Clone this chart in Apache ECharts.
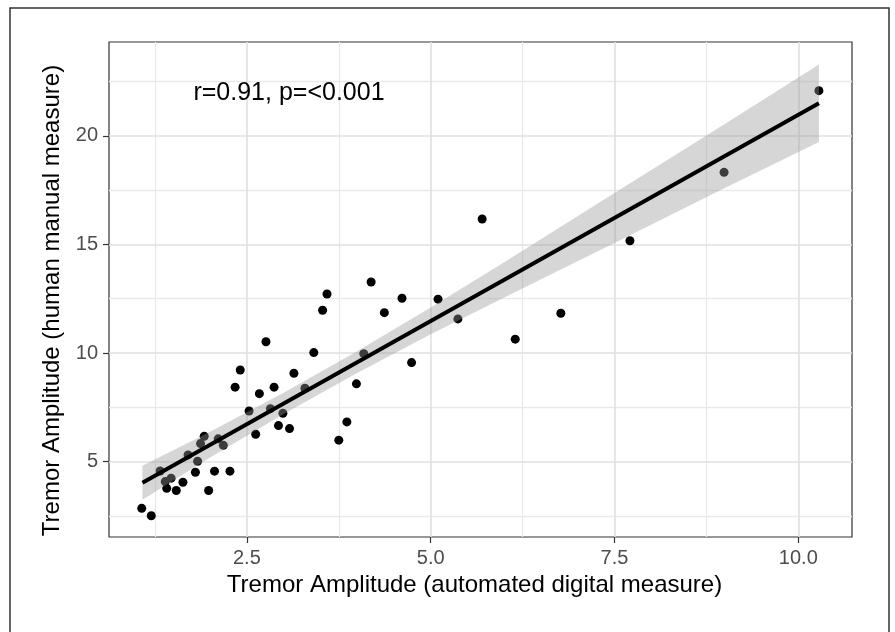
<!DOCTYPE html>
<html>
<head>
<meta charset="utf-8">
<script src="https://cdn.jsdelivr.net/npm/echarts@6/dist/echarts.min.js"></script>
<style>
  html, body { margin: 0; padding: 0; background: #fff; }
  #container { width: 895px; height: 632px; }
</style>
</head>
<body>
<div id="container"></div>
<script>
// scatter points: automated (x) vs manual (y)
const pointX = [1.07, 1.20, 1.32, 1.39, 1.41, 1.47, 1.54, 1.63, 1.70, 1.80,
  1.83, 1.87, 1.92, 1.98, 2.06, 2.11, 2.18, 2.27, 2.34, 2.41,
  2.53, 2.62, 2.67, 2.76, 2.82, 2.87, 2.93, 2.99, 3.08, 3.14,
  3.29, 3.41, 3.53, 3.59, 3.75, 3.86, 3.99, 4.09, 4.19, 4.37,
  4.61, 4.74, 5.10, 5.37, 5.70, 6.15, 6.77, 7.71, 8.99, 10.28];
const pointY = [2.85, 2.51, 4.57, 4.08, 3.77, 4.24, 3.67, 4.05, 5.31, 4.51,
  5.02, 5.83, 6.17, 3.67, 4.56, 6.05, 5.75, 4.56, 8.43, 9.22,
  7.33, 6.26, 8.13, 10.52, 7.44, 8.43, 6.66, 7.23, 6.52, 9.07,
  8.38, 10.02, 11.97, 12.72, 5.99, 6.83, 8.58, 9.97, 13.27, 11.86,
  12.52, 9.56, 12.48, 11.57, 16.17, 10.64, 11.83, 15.17, 18.32, 22.08];

// fitted line end points and confidence band
const fitX = [1.08, 10.28];
const fitY = [4.03, 21.5];
const bandX = [1.08, 2, 3, 4, 5, 6, 7.5, 9, 10.28];
const bandLower = [3.25, 5.19, 7.19, 9.08, 10.86, 12.56, 15.07, 17.6, 19.72];
const bandUpper = [4.81, 6.37, 8.17, 10.08, 12.10, 14.18, 17.37, 20.54, 23.28];

const xMajor = [2.5, 5, 7.5, 10];
const xMinor = [1.25, 3.75, 6.25, 8.75];
const yMajor = [5, 10, 15, 20];
const yMinor = [2.5, 7.5, 12.5, 17.5, 22.5];

const xRange = [0.625, 10.73];
const yRange = [1.53, 24.32];

const FONT = "Liberation Sans, Arial, Helvetica, sans-serif";
const gridMajor = { color: "#e0e0e0", width: 1.6 };
const gridMinor = { color: "#e9e9e9", width: 1.3 };

let dom = document.getElementById("container");
let myChart = echarts.init(dom, null, { renderer: "canvas" });

function axisPair(range, major, minor, fmt, extra) {
  return [
    Object.assign({
      type: "value",
      min: range[0],
      max: range[1],
      axisLine: { show: false },
      axisTick: {
        show: true, length: 6, customValues: major,
        lineStyle: { color: "#333", width: 1.2 },
      },
      axisLabel: {
        customValues: major,
        formatter: fmt,
        color: "#4d4d4d",
        fontSize: 20,
        fontFamily: FONT,
        margin: 11,
      },
      splitLine: { show: true, lineStyle: gridMajor },
      nameLocation: "middle",
      z: 1,
    }, extra),
    {
      type: "value",
      min: range[0],
      max: range[1],
      axisLine: { show: false },
      axisTick: { show: false, customValues: minor },
      axisLabel: { show: false, customValues: minor },
      splitLine: { show: true, lineStyle: gridMinor },
      z: 0,
    },
  ];
}

let option = {
  animation: false,
  backgroundColor: "#fff",
  grid: {
    left: 109, right: 43, top: 42, bottom: 95,
    show: true, borderColor: "#333", borderWidth: 1.2,
  },
  xAxis: axisPair(xRange, xMajor, xMinor, (v) => v.toFixed(1), {
    name: "Tremor Amplitude (automated digital measure)",
    nameGap: 36,
    nameTextStyle: { color: "#000", fontSize: 24, fontFamily: FONT, padding: [0, 12, 0, 0] },
  }),
  yAxis: axisPair(yRange, yMajor, yMinor, (v) => String(v), {
    name: "Tremor Amplitude (human manual measure)",
    nameGap: 42,
    nameTextStyle: { color: "#000", fontSize: 24, fontFamily: FONT, padding: [0, 22, 0, 0] },
  }),
  graphic: [
    {
      type: "rect",
      shape: { x: 10, y: 8, width: 879, height: 650 },
      style: { fill: "none", stroke: "#333", lineWidth: 1.5 },
      silent: true,
    },
    {
      type: "text",
      x: 289, y: 93,
      style: {
        text: "r=0.91, p=<0.001",
        font: "25px " + FONT,
        fill: "#000",
        textAlign: "center",
        textVerticalAlign: "middle",
      },
      z: 10,
    },
  ],
  series: [
    {
      type: "scatter",
      data: pointX.map((x, i) => [x, pointY[i]]),
      symbolSize: 9,
      itemStyle: { color: "#000", opacity: 1 },
      z: 2,
    },
    {
      type: "custom",
      data: bandX.map((x, i) => [x, bandLower[i], bandUpper[i]]),
      encode: { x: 0, y: [1, 2] },
      renderItem: function (params, api) {
        if (params.dataIndex !== 0) return null;
        let pts = [];
        for (let i = 0; i < bandX.length; i++) pts.push(api.coord([bandX[i], bandUpper[i]]));
        for (let i = bandX.length - 1; i >= 0; i--) pts.push(api.coord([bandX[i], bandLower[i]]));
        return {
          type: "polygon",
          shape: { points: pts },
          style: { fill: "rgba(153,153,153,0.4)" },
        };
      },
      z: 3,
    },
    {
      type: "line",
      data: fitX.map((x, i) => [x, fitY[i]]),
      showSymbol: false,
      symbol: "none",
      lineStyle: { color: "#000", width: 4 },
      z: 4,
    },
  ],
};

myChart.setOption(option);
window.addEventListener("resize", myChart.resize);
</script>
</body>
</html>
